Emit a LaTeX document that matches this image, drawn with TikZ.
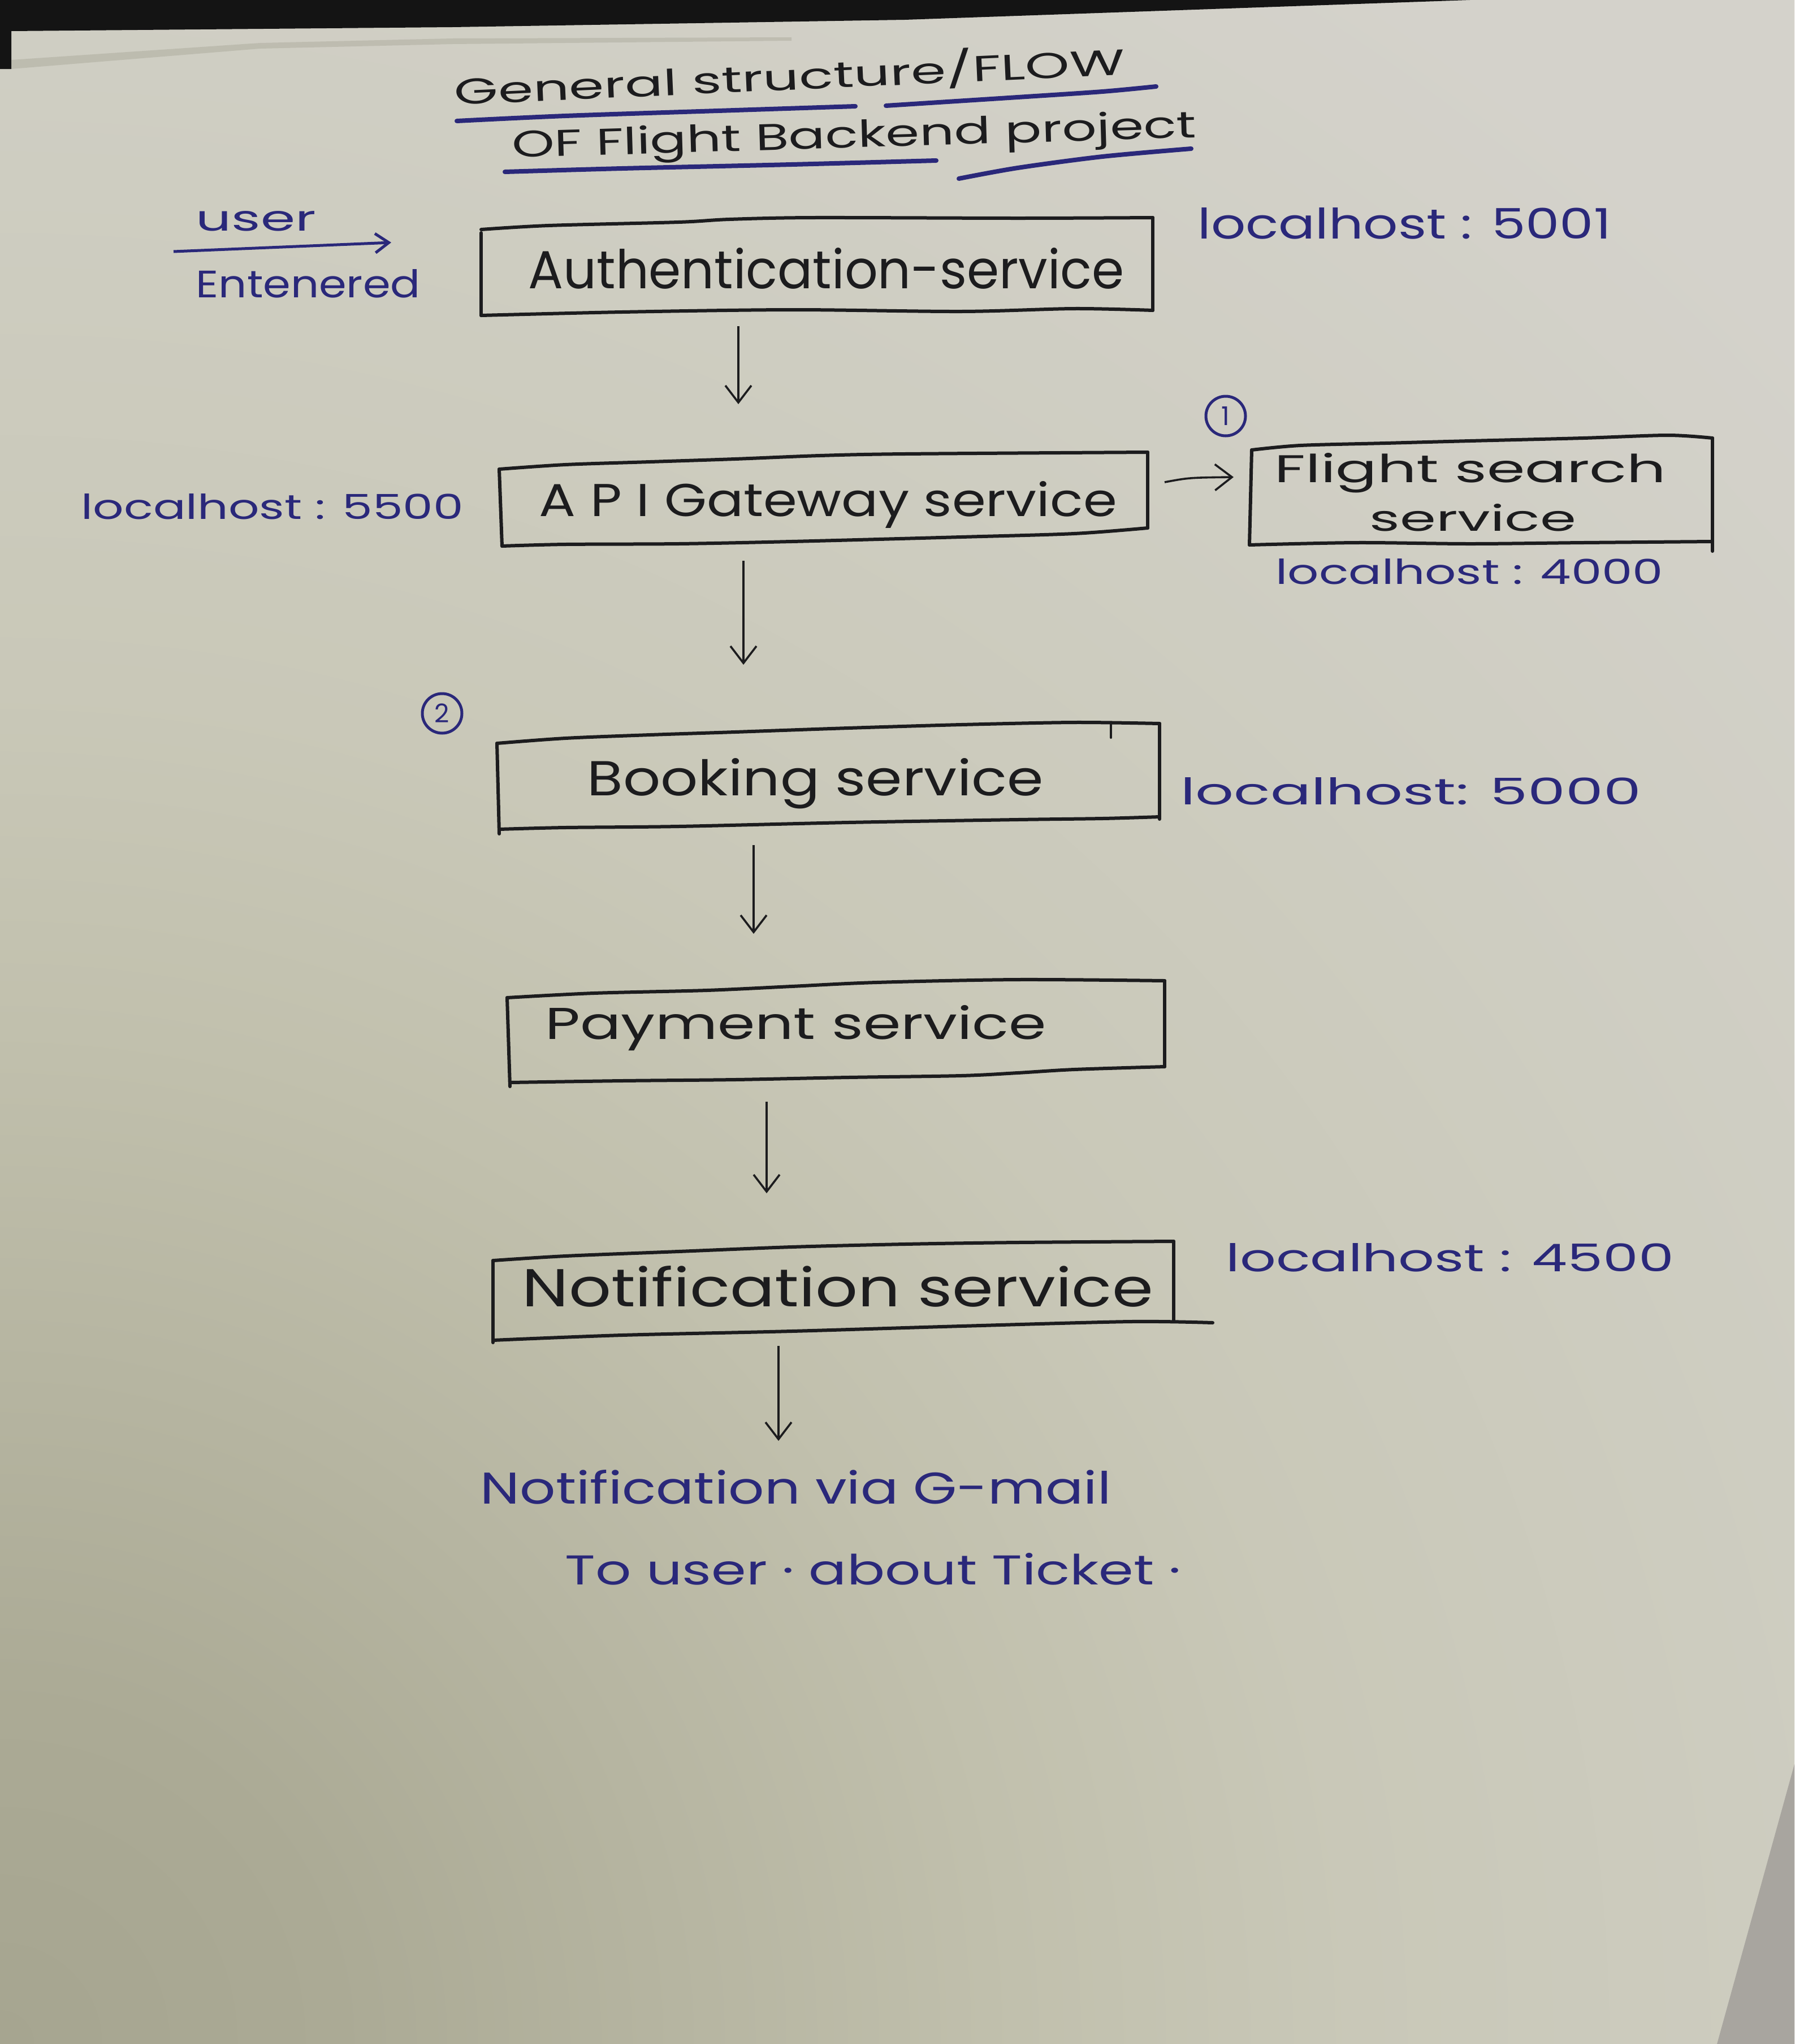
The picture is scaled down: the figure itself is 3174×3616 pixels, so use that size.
\documentclass[tikz,border=0pt]{standalone}
\usepackage{fontspec}
\setmainfont{Poppins}
\usepackage{graphicx}
\usetikzlibrary{arrows.meta,calc}
\definecolor{ink}{RGB}{28,28,30}
\definecolor{bink}{RGB}{42,40,122}
\definecolor{pA}{HTML}{A6A590}
\definecolor{pB}{HTML}{ABAA95}
\definecolor{pC}{HTML}{B6B5A1}
\definecolor{pD}{HTML}{C1C0AD}
\definecolor{pE}{HTML}{C9C8B8}
\definecolor{pF}{HTML}{CECDC1}
\definecolor{pG}{HTML}{D4D2CB}
\definecolor{edgegray}{RGB}{168,165,159}
\definecolor{shadowband}{HTML}{9E9C8C}
\pgfdeclareradialshading{paperbg}{\pgfpoint{0bp}{0bp}}{color(0bp)=(pA); color(3.06bp)=(pB); color(6.12bp)=(pC); color(9.18bp)=(pD); color(12.24bp)=(pE); color(16.8bp)=(pF); color(22.4bp)=(pG); color(50bp)=(pG)}
\newlength\pxu
\setlength\pxu{0.1mm}
\newcommand\hw[3]{\resizebox{#1\pxu}{#2\pxu}{#3}}
\newcommand\nodepth[1]{\raisebox{0pt}[\height][0pt]{#1}}
\tikzset{
  boxln/.style={draw=ink, line width=0.6mm, line cap=round, line join=round},
  flowarr/.style={draw=ink, line width=0.36mm, -{Straight Barb[length=3.0mm,width=4.6mm,line width=0.36mm]}},
  barr/.style={draw=bink, line width=0.5mm, -{Straight Barb[length=2.4mm,width=3.4mm,line width=0.5mm]}},
  uline/.style={draw=bink, line width=0.8mm, line cap=round},
  btxt/.style={text=ink, inner sep=0pt, anchor=base west},
  ltxt/.style={text=bink, inner sep=0pt, anchor=base west},
  numc/.style={circle, draw=bink, line width=0.5mm, minimum size=7mm, inner sep=0pt, text=bink, font=\fontsize{13}{15}\selectfont},
}
\begin{document}
\begin{tikzpicture}[x=0.1mm,y=-0.1mm]
\useasboundingbox (0,0) rectangle (3174,3616);
% paper background
\begin{scope}
\clip (0,0) rectangle (3174,3616);
\shade[shading=paperbg] (0,3616) circle[radius=490mm];
\end{scope}
\fill[edgegray] (3174,3121) -- (3037,3616) -- (3174,3616) -- cycle;
\fill[black!92] (0,0) -- (2600,0) -- (1600,35) -- (800,48) -- (20,55) -- (20,122) -- (0,122) -- cycle;
\fill[shadowband, opacity=0.35] (20,122) -- (460,86) -- (800,78) -- (1400,72) -- (1400,66) -- (800,68) -- (460,76) -- (20,106) -- cycle;

% title
\node[btxt, rotate=2.6] (title1) at (804,186) {\nodepth{\hw{1187}{60}{General structure/FLOW}}};
\node[btxt, rotate=1.7] (title2) at (906,279) {\hw{1210}{50}{OF Flight Backend project}};
\draw[uline] plot[smooth] coordinates {(808,214) (1000,205) (1300,195) (1513,188)};
\draw[uline] plot[smooth] coordinates {(1567,187) (1800,172) (1950,162) (2045,153)};
\draw[uline] plot[smooth] coordinates {(893,304) (1100,298) (1400,291) (1656,284)};
\draw[uline] plot[smooth] coordinates {(1696,316) (1800,297) (1950,277) (2107,263)};

% user entry
\node[ltxt] (user) at (346,408) {\hw{212}{35}{user}};
\node[ltxt] (entered) at (346,526) {\hw{397}{50}{Entenered}};
\draw[barr] ($(user.base west)+(-39,37)$) -- ($(user.base west)+(346,21)$);

% authentication
\node[btxt] (auth) at (934,510) {\hw{1054}{72}{Authentication-service}};
\node[ltxt] (lhauth) at (2118,422) {\hw{731}{55}{localhost : 5001}};
\draw[boxln] plot[smooth] coordinates {(851,406) (970,399) (1200,393) (1290,388) (1440,385) (1800,386) (2039,385)};
\draw[boxln] plot[smooth] coordinates {(851,558) (1100,552) (1400,548) (1700,551) (1900,546) (2039,549)};
\draw[boxln] (851,412) -- (851,558);
\draw[boxln] (2039,385) -- (2039,549);

% api gateway
\node[btxt] (api) at (953,913) {\hw{1022}{62}{A P I Gateway service}};
\node[ltxt] (lhapi) at (143,918) {\hw{676}{45}{localhost : 5500}};
\draw[boxln] plot[smooth] coordinates {(883,830) (1000,822) (1150,817) (1300,812) (1450,806) (1600,803) (2030,800)};
\draw[boxln] plot[smooth] coordinates {(888,966) (1000,963) (1200,962) (1400,958) (1700,950) (1900,944) (2030,934)};
\draw[boxln] (883,830) -- (888,966);
\draw[boxln] (2030,800) -- (2030,934);

% flight search
\node[numc] (n1) at (2168,736) {1};
\node[btxt] (fs1) at (2254,853) {\hw{692}{52}{Flight search}};
\node[btxt] (fs2) at (2422,939) {\hw{365}{48}{service}};
\node[ltxt] (lhfs) at (2256,1033) {\hw{685}{45}{localhost : 4000}};
\draw[boxln] plot[smooth] coordinates {(2214,796) (2300,788) (2450,784) (2600,780) (2800,775) (2950,770) (3029,775)};
\draw[boxln] plot[smooth] coordinates {(2210,964) (2400,960) (2600,962) (2800,960) (3029,958)};
\draw[boxln] (2214,796) -- (2210,964);
\draw[boxln] (3029,775) -- (3029,975);

% booking
\node[numc] (n2) at (782,1262) {2};
\node[btxt] (book) at (1038,1407) {\hw{807}{66}{Booking service}};
\node[ltxt] (lhbook) at (2088,1423) {\hw{814}{48}{localhost: 5000}};
\draw[boxln] plot[smooth] coordinates {(879,1315) (1000,1306) (1150,1300) (1300,1295) (1500,1288) (1700,1282) (1900,1278) (2051,1280)};
\draw[boxln] plot[smooth] coordinates {(883,1467) (1000,1464) (1200,1462) (1500,1455) (1800,1450) (1950,1448) (2051,1445)};
\draw[boxln] (879,1315) -- (883,1475);
\draw[boxln] (2051,1280) -- (2051,1449);
\draw[boxln, line width=0.4mm] (1965,1281) -- (1965,1305);

% payment
\node[btxt] (pay) at (964,1838) {\hw{886}{60}{Payment service}};
\draw[boxln] plot[smooth] coordinates {(897,1765) (1050,1757) (1250,1752) (1400,1745) (1550,1738) (1800,1733) (2060,1735)};
\draw[boxln] plot[smooth] coordinates {(902,1915) (1100,1912) (1300,1910) (1500,1906) (1700,1903) (1800,1898) (1900,1892) (2060,1887)};
\draw[boxln] (897,1765) -- (902,1922);
\draw[boxln] (2060,1735) -- (2060,1887);

% notification
\node[btxt] (notif) at (923,2311) {\hw{1116}{72}{Notification service}};
\node[ltxt] (lhnotif) at (2168,2249) {\hw{792}{50}{localhost : 4500}};
\draw[boxln] plot[smooth] coordinates {(872,2230) (1000,2222) (1200,2214) (1400,2206) (1600,2201) (1800,2198) (2076,2196)};
\draw[boxln] plot[smooth] coordinates {(872,2371) (1100,2362) (1400,2355) (1700,2346) (2000,2338) (2145,2340)};
\draw[boxln] (872,2230) -- (872,2375);
\draw[boxln] (2076,2196) -- (2076,2336);

% final note
\node[ltxt] (note1) at (849,2660) {\hw{1116}{60}{Notification via G-mail}};
\node[ltxt] (note2) at (999,2803) {\hw{1089}{56}{To  user · about Ticket ·}};

% flow arrows
\draw[flowarr] ($(auth.base west)+(372,67)$) -- ($(api.base west)+(353,-198)$);
\draw[flowarr] ($(api.base west)+(1107,-60)$) .. controls ($(api.base west)+(1150,-68)$) .. ($(fs1.base west)+(-72,-9)$);
\draw[flowarr] ($(api.base west)+(362,79)$) -- ($(book.base west)+(277,-231)$);
\draw[flowarr] ($(book.base west)+(295,88)$) -- ($(pay.base west)+(369,-186)$);
\draw[flowarr] ($(pay.base west)+(392,111)$) -- ($(notif.base west)+(433,-200)$);
\draw[flowarr] ($(notif.base west)+(454,70)$) -- ($(note1.base west)+(528,-111)$);
\end{tikzpicture}
\end{document}
